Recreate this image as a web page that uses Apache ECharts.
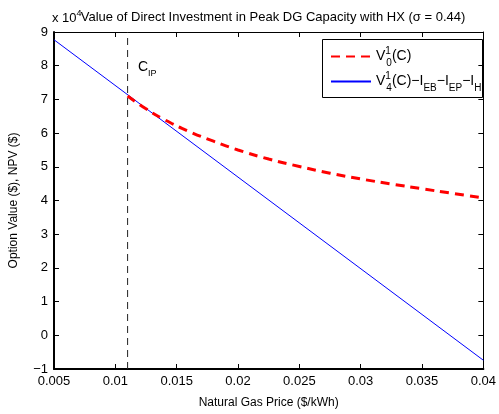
<!DOCTYPE html>
<html>
<head>
<meta charset="utf-8">
<script src="https://cdn.jsdelivr.net/npm/echarts@6/dist/echarts.min.js"></script>
<style>
  html, body { margin: 0; padding: 0; background: #fff; }
  #chart { width: 499px; height: 414px; }
</style>
</head>
<body>
<div id="chart"></div>
<script>
// Natural gas price grid (x, $/kWh) and values (in units of 10^4 $)
const gasPrice = [0.011, 0.0125, 0.014, 0.016, 0.018, 0.02, 0.0225, 0.025, 0.0275, 0.03, 0.0325, 0.035, 0.0375, 0.04];
// Option value V0^1(C)
const optionValue = [7.10, 6.72, 6.40, 6.05, 5.76, 5.50, 5.23, 5.01, 4.81, 4.64, 4.49, 4.35, 4.21, 4.08];
// NPV of immediate investment: straight line, endpoints
const npvPrice = [0.005, 0.04];
const npvValue = [8.77, -0.74];
// Investment threshold price C_IP
const cIP = 0.011;
const yRange = [-1, 9];
const xTicks = { min: 0.005, max: 0.04, step: 0.005 };

const FONT = '"Liberation Sans", Arial, Helvetica, sans-serif';
const chart = echarts.init(document.getElementById('chart'), null, { renderer: 'canvas' });

const fmtNum = v => String(+v.toFixed(4)).replace('-', '\u2212');

const richLegend = {
  m: { fontFamily: FONT, fontSize: 14, color: '#000', lineHeight: 25, verticalAlign: 'middle' },
  sup: { fontFamily: FONT, fontSize: 10, color: '#000', width: 1, verticalAlign: 'top', lineHeight: 25, padding: [2, 0, 0, 0] },
  sub: { fontFamily: FONT, fontSize: 10, color: '#000', verticalAlign: 'bottom', lineHeight: 25, padding: [0, 0, 1, 0] },
  s: { fontFamily: FONT, fontSize: 10, color: '#000', verticalAlign: 'bottom', lineHeight: 25, padding: [0, 0, 1, 0] }
};

const option = {
  backgroundColor: '#fff',
  animation: false,
  title: {
    text: 'Value of Direct Investment in Peak DG Capacity with HX (\u03c3 = 0.44)',
    left: 268, top: 6, textAlign: 'center',
    textStyle: { fontFamily: FONT, fontSize: 13, fontWeight: 'normal', color: '#000' }
  },
  grid: { left: 52.5, right: 12, top: 32, bottom: 41.5, show: false },
  legend: {
    orient: 'vertical',
    left: 325, top: 39,
    itemWidth: 40, itemHeight: 14, itemGap: 0,
    itemStyle: { opacity: 0 },
    data: ['V0', 'V4'],
    formatter: name => name === 'V0'
      ? '{m|V}{sup|1}{sub|0}{m|(C)}'
      : '{m|V}{sup|1}{sub|4}{m|(C)\u2212I}{s|EB}{m|\u2212I}{s|EP}{m|\u2212I}{s|H}',
    textStyle: { rich: richLegend }
  },
  xAxis: [{
    type: 'value', min: xTicks.min, max: xTicks.max, interval: xTicks.step,
    name: 'Natural Gas Price ($/kWh)', nameLocation: 'middle', nameGap: 28,
    nameTextStyle: { fontFamily: FONT, fontSize: 12, color: '#000' },
    axisLine: { onZero: false, lineStyle: { color: '#000', width: 2 } },
    axisTick: { inside: true, length: 5, lineStyle: { color: '#000', width: 1 } },
    axisLabel: { fontFamily: FONT, fontSize: 13, color: '#000', margin: 6, formatter: fmtNum },
    splitLine: { show: false }
  }, {
    type: 'value', position: 'top', min: xTicks.min, max: xTicks.max, interval: xTicks.step,
    axisLine: { onZero: false, lineStyle: { color: '#000', width: 1 } },
    axisTick: { inside: true, length: 5, lineStyle: { color: '#000' } },
    axisLabel: { show: false }, splitLine: { show: false }
  }],
  yAxis: [{
    type: 'value', min: yRange[0], max: yRange[1], interval: 1,
    name: 'Option Value ($), NPV ($)', nameLocation: 'middle', nameGap: 34,
    nameTextStyle: { fontFamily: FONT, fontSize: 12, color: '#000' },
    axisLine: { onZero: false, lineStyle: { color: '#000', width: 2 } },
    axisTick: { inside: true, length: 5, lineStyle: { color: '#000', width: 1 } },
    axisLabel: { fontFamily: FONT, fontSize: 13, color: '#000', margin: 6, formatter: fmtNum },
    splitLine: { show: false }
  }, {
    type: 'value', position: 'right', min: yRange[0], max: yRange[1], interval: 1,
    axisLine: { onZero: false, lineStyle: { color: '#000', width: 1 } },
    axisTick: { inside: true, length: 5, lineStyle: { color: '#000' } },
    axisLabel: { show: false }, splitLine: { show: false }
  }],
  series: [{
    name: 'V0', type: 'line', smooth: true, symbol: 'none', z: 3,
    data: gasPrice.map((x, i) => [x, optionValue[i]]),
    lineStyle: { color: '#ff0000', width: 3, type: [9, 6] },
    itemStyle: { color: '#ff0000' }
  }, {
    name: 'V4', type: 'line', symbol: 'none', z: 2,
    data: npvPrice.map((x, i) => [x, npvValue[i]]),
    lineStyle: { color: '#0000ff', width: 1 },
    itemStyle: { color: '#0000ff' }
  }, {
    name: 'CIP', type: 'line', symbol: 'none', z: 1,
    data: [[cIP, yRange[0]], [cIP, yRange[1]]],
    lineStyle: { color: '#222', width: 1, type: [7, 5] },
    label: { show: false }
  }],
  graphic: [{
    type: 'rect', left: 320, top: 37, z: 5,
    shape: { width: 160, height: 58 },
    style: { fill: 'none', stroke: '#000', lineWidth: 1 }
  }, {
    type: 'text', left: 52, top: 9, z: 0,
    style: {
      text: '{m|x 10}{s|4}',
      rich: {
        m: { fontFamily: FONT, fontSize: 13, color: '#000', verticalAlign: 'bottom', lineHeight: 16 },
        s: { fontFamily: FONT, fontSize: 9, color: '#000', verticalAlign: 'top', lineHeight: 16 }
      }
    }
  }, {
    type: 'text', left: 138, top: 60, z: 5,
    style: {
      text: '{m|C}{s|IP}',
      rich: {
        m: { fontFamily: FONT, fontSize: 14, color: '#000', lineHeight: 22, verticalAlign: 'middle' },
        s: { fontFamily: FONT, fontSize: 9, color: '#000', lineHeight: 22, verticalAlign: 'bottom' }
      }
    }
  }]
};

chart.setOption(option);
</script>
</body>
</html>
